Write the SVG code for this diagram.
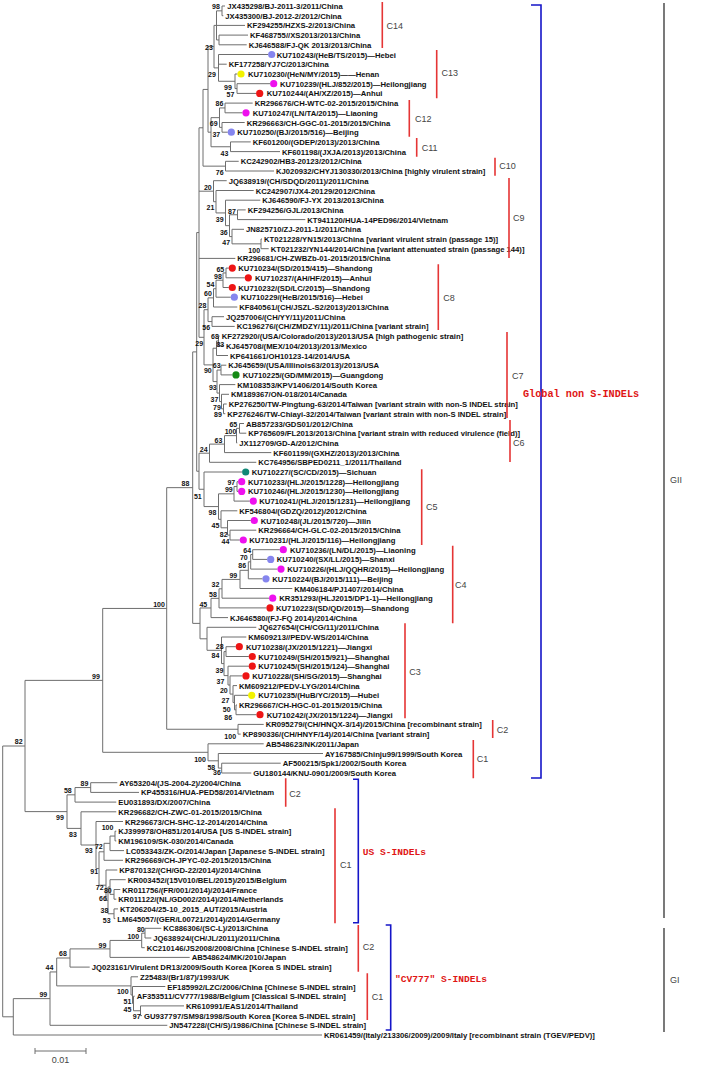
<svg xmlns="http://www.w3.org/2000/svg" width="712" height="1065" viewBox="0 0 712 1065">
<style>
.l{font-family:"Liberation Sans",Arial,sans-serif;font-size:7.7px;font-weight:bold;fill:#111}
.b{font-family:"Liberation Sans",Arial,sans-serif;font-size:7px;font-weight:bold;fill:#111;text-anchor:middle}
.c{font-family:"Liberation Sans",Arial,sans-serif;font-size:9px;fill:#444}
.g{font-family:"Liberation Mono","Courier New",monospace;font-size:9.6px;font-weight:bold;fill:#e01515}
.br{fill:none;stroke:#6e6e6e;stroke-width:1}
.bar{stroke:#e53535;stroke-width:1.6;fill:none}
.blue{fill:none;stroke:#1515c8;stroke-width:1.6}
.blk{fill:none;stroke:#222;stroke-width:1.2}
.pb{fill:#8585ee}.pm{fill:#ee10ee}.pr{fill:#ee1515}.py{fill:#f2f200}.pg{fill:#158a15}.pt{fill:#118877}
</style>
<rect width="712" height="1065" fill="#fff"/>
<g id="connectors" class="br">
<path d="M225 6H222V15.7H223.3M248 35.1H219V44.8H246.7M222 10.85H216.5V39.95H219M216.5 25.4H245"/>
<path d="M270.2 83.7H237V93.4H256.2M237.5 74H235V88.55H237M268.2 54.5H218.5V81.28H235M218.5 64.2H226.7M216.5 25.4H214V67.89H218.5"/>
<path d="M252.7 103.1H225V112.8H242.5M244.7 122.5H222V132.2H227.8M225 107.95H219.5V127.35H222M250.7 141.9H230.5V151.6H280M219.5 117.65H211V146.75H230.5M214 46.65H208V132.2H211"/>
<path d="M238.7 161.3H225.5V171H274M208 89.43H203V166.15H225.5"/>
<path d="M245.7 209.9H237.5V219.6H305.3M262 239H261V248.7H268.7M244 229.3H232V243.85H261M237.5 214.75H229.5V236.58H232M260.3 200.2H225.5V225.66H229.5M253.7 190.5H216V212.93H225.5M226.7 180.7H213.5V201.71H216"/>
<path d="M228.8 268.1H226V277.8H244.8M226 272.95H223V287.5H228.8M223 280.23H216V297.2H230.8M216 288.71H213.5V307H237.3M224 316.7H212V326.4H234.7M213.5 297.86H208V321.55H212"/>
<path d="M219.7 336.1H218.5V345.8H224M218.5 340.95H216.5V355.5H228M226.3 365.2H221V374.9H232.5M226.7 404H223.5V413.7H225.3M229 394.3H221.5V408.85H223.5M235.3 384.6H219.5V401.58H221.5M221 370.05H217V393.09H219.5M216.5 348.23H213V381.57H217M208 309.7H204V364.9H213"/>
<path d="M203 127.79H199V337.3H204M199 191.2H213.5M199 258.4H235.3"/>
<path d="M244 423.5H239.5V433.2H246.3M239.5 428.35H236.5V442.9H237.3M236.5 435.63H224.5V452.6H271.3M224.5 444.11H209.5V462.3H256.3"/>
<path d="M238.2 481.7H237V491.4H238.2M237 486.55H234V501.1H249.8M256.3 530.2H230V540H239.8M250.8 520.5H227.5V535.1H230M237.3 510.8H221V527.8H227.5M234 493.83H218.5V519.3H221M242.2 472H204V506.57H218.5M209.5 453.2H199V489.28H204M199 232.55H196.7V471.24H199"/>
<path d="M279.8 549.7H252.7V559.4H267.2M252.7 554.55H250.7V569.1H277.5M250.7 561.83H248.3V578.8H262.5M248.3 570.31H240V588.5H292.3M240 579.41H222V598.2H269.2M222 588.8H219V607.9H266.5M219 598.35H211V617.6H228"/>
<path d="M235.8 646.7H226V656.5H248.8M237 705H236V714.7H256.5M248.2 695.3H234.5V709.85H236M237 685.6H233V702.58H234.5M242.5 675.9H230V694.09H233M248.8 666.2H228V685H230M226 651.6H224V675.6H228M246.3 637H221.5V663.6H224M256.3 627.3H207V650.3H221.5M211 607.98H200V638.8H207M196.7 351.9H192.7V623.39H200"/>
<path d="M263.7 724.4H238V734.1H240.7M192.7 487.65H166.7V729.25H238"/>
<path d="M280.7 763.2H221.7V773H251.3M323 753.5H218.3V768.1H221.7M263.7 743.8H208V760.8H218.3M166.7 608.45H102.7V752.3H208"/>
<path d="M117.3 782.7H90.7V792.4H139M90.7 787.55H75V802.1H116.3"/>
<path d="M116.3 831.2H115V840.9H116.3M115 836.05H110V850.6H124M110 843.33H104V860.3H123M120.3 889.5H114V899.2H116.3M125.7 879.7H110V894.35H114M118 908.9H114V918.6H115.3M110 887.03H108V913.75H114M117.3 870H106V900.39H108M104 851.8H99V885.2H106M123 821.5H96V868.5H99M116.3 811.8H81V845H96M75 794.83H67V828.4H81M102.7 680.38H25V811.62H67"/>
<path d="M161.3 928.3H145V938H151.3M145 933.15H141.7V947.7H144.7M141.7 940.43H110V957.4H189.7M110 948.9H70V967.1H89.7"/>
<path d="M184 1005.9H140.5V1015.6H142M134.7 996.2H133.5V1010.75H140.5M165.3 986.5H132.5V1003.48H133.5M138 976.8H131V994.99H132.5M70 958H56.7V985.9H131M56.7 971.95H50V1025.3H167.3M50 998.63H13.3V1035H322M25 746H2.7V1016.8H13.3"/>
</g>
<g id="leaves">
<g id="n1"><text class="l" x="227.3" y="9">JX435298/BJ-2011-3/2011/China</text></g>
<g id="n2"><text class="l" x="225.3" y="18.7">JX435300/BJ-2012-2/2012/China</text></g>
<g id="n3"><text class="l" x="247" y="28.4">KF294255/HZXS-2/2013/China</text></g>
<g id="n4"><text class="l" x="250" y="38.1">KF468755//XS2013/2013/China</text></g>
<g id="n5"><text class="l" x="248.7" y="47.8">KJ646588/FJ-QK 2013/2013/China</text></g>
<g id="n6"><circle class="pb" cx="271.7" cy="54.5" r="3.6"/><text class="l" x="276.7" y="57.5">KU710243/(HeB/TS/2015)—Hebei</text></g>
<g id="n7"><text class="l" x="228.7" y="67.2">KF177258/YJ7C/2013/China</text></g>
<g id="n8"><circle class="py" cx="241" cy="74" r="3.6"/><text class="l" x="248" y="77">KU710230/(HeN/MY/2015)——Henan</text></g>
<g id="n9"><circle class="pm" cx="273.7" cy="83.7" r="3.6"/><text class="l" x="280" y="86.7">KU710239/(HLJ/852/2015)—Heilongjiang</text></g>
<g id="n10"><circle class="pr" cx="259.7" cy="93.4" r="3.6"/><text class="l" x="266.7" y="96.4">KU710244/(AH/XZ/2015)—Anhui</text></g>
<g id="n11"><text class="l" x="254.7" y="106.1">KR296676/CH-WTC-02-2015/2015/China</text></g>
<g id="n12"><circle class="pm" cx="246" cy="112.8" r="3.6"/><text class="l" x="252.7" y="115.8">KU710247/(LN/TA/2015)—Liaoning</text></g>
<g id="n13"><text class="l" x="246.7" y="125.5">KR296663/CH-GGC-01-2015/2015/China</text></g>
<g id="n14"><circle class="pb" cx="231.3" cy="132.2" r="3.6"/><text class="l" x="237.3" y="135.2">KU710250/(BJ/2015/516)—Beijing</text></g>
<g id="n15"><text class="l" x="252.7" y="144.9">KF601200/(GDEP/2013)/2013/China</text></g>
<g id="n16"><text class="l" x="282" y="154.6">KF601198/(JXJA/2013)/2013/China</text></g>
<g id="n17"><text class="l" x="240.7" y="164.3">KC242902/HB3-20123/2012/China</text></g>
<g id="n18"><text class="l" x="276" y="174">KJ020932/CHYJ130330/2013/China [highly virulent strain]</text></g>
<g id="n19"><text class="l" x="228.7" y="183.7">JQ638919/(CH/SDQD/2011)/2011/China</text></g>
<g id="n20"><text class="l" x="255.7" y="193.5">KC242907/JX4-20129/2012/China</text></g>
<g id="n21"><text class="l" x="262.3" y="203.2">KJ646590/FJ-YX 2013/2013/China</text></g>
<g id="n22"><text class="l" x="247.7" y="212.9">KF294256/GJL/2013/China</text></g>
<g id="n23"><text class="l" x="307.3" y="222.6">KT941120/HUA-14PED96/2014/Vietnam</text></g>
<g id="n24"><text class="l" x="246" y="232.3">JN825710/ZJ-2011-1/2011/China</text></g>
<g id="n25"><text class="l" x="264" y="242">KT021228/YN15/2013/China [variant virulent strain (passage 15)]</text></g>
<g id="n26"><text class="l" x="270.7" y="251.7">KT021232/YN144/2014/China [variant attenuated strain (passage 144)]</text></g>
<g id="n27"><text class="l" x="237.3" y="261.4">KR296681/CH-ZWBZb-01-2015/2015/China</text></g>
<g id="n28"><circle class="pr" cx="232.3" cy="268.1" r="3.6"/><text class="l" x="238.3" y="271.1">KU710234/(SD/2015/415)—Shandong</text></g>
<g id="n29"><circle class="pr" cx="248.3" cy="277.8" r="3.6"/><text class="l" x="255" y="280.8">KU710237/(AH/HF/2015)—Anhui</text></g>
<g id="n30"><circle class="pr" cx="232.3" cy="287.5" r="3.6"/><text class="l" x="238.3" y="290.5">KU710232/(SD/LC/2015)—Shandong</text></g>
<g id="n31"><circle class="pb" cx="234.3" cy="297.2" r="3.6"/><text class="l" x="240.7" y="300.2">KU710229/(HeB/2015/516)—Hebei</text></g>
<g id="n32"><text class="l" x="239.3" y="310">KF840561/(CH/JSZL-S2/2013)/2013/China</text></g>
<g id="n33"><text class="l" x="226" y="319.7">JQ257006/(CH/YY/11)/2011/China</text></g>
<g id="n34"><text class="l" x="236.7" y="329.4">KC196276/(CH/ZMDZY/11)/2011/China [variant strain]</text></g>
<g id="n35"><text class="l" x="221.7" y="339.1">KF272920/(USA/Colorado/2013)/2013/USA [high pathogenic strain]</text></g>
<g id="n36"><text class="l" x="226" y="348.8">KJ645708/(MEX/104/2013)/2013/Mexico</text></g>
<g id="n37"><text class="l" x="230" y="358.5">KP641661/OH10123-14/2014/USA</text></g>
<g id="n38"><text class="l" x="228.3" y="368.2">KJ645659/(USA/Illinois63/2013)/2013/USA</text></g>
<g id="n39"><circle class="pg" cx="236" cy="374.9" r="3.6"/><text class="l" x="242.7" y="377.9">KU710225/(GD/MM/2015)—Guangdong</text></g>
<g id="n40"><text class="l" x="237.3" y="387.6">KM108353/KPV1406/2014/South Korea</text></g>
<g id="n41"><text class="l" x="231" y="397.3">KM189367/ON-018/2014/Canada</text></g>
<g id="n42"><text class="l" x="228.7" y="407">KP276250/TW-Pingtung-63/2014/Taiwan [variant strain with non-S INDEL strain]</text></g>
<g id="n43"><text class="l" x="227.3" y="416.7">KP276246/TW-Chiayi-32/2014/Taiwan [variant strain with non-S INDEL strain]</text></g>
<g id="n44"><text class="l" x="246" y="426.5">AB857233/GDS01/2012/China</text></g>
<g id="n45"><text class="l" x="248.3" y="436.2">KP765609/FL2013/2013/China [variant strain with reduced virulence (field)]</text></g>
<g id="n46"><text class="l" x="239.3" y="445.9">JX112709/GD-A/2012/China</text></g>
<g id="n47"><text class="l" x="273.3" y="455.6">KF601199/(GXHZ/2013)/2013/China</text></g>
<g id="n48"><text class="l" x="258.3" y="465.3">KC764956/SBPED0211_1/2011/Thailand</text></g>
<g id="n49"><circle class="pt" cx="245.7" cy="472" r="3.6"/><text class="l" x="251.7" y="475">KU710227/(SC/CD/2015)—Sichuan</text></g>
<g id="n50"><circle class="pm" cx="241.7" cy="481.7" r="3.6"/><text class="l" x="248" y="484.7">KU710233/(HLJ/2015/1228)—Heilongjiang</text></g>
<g id="n51"><circle class="pm" cx="241.7" cy="491.4" r="3.6"/><text class="l" x="248" y="494.4">KU710246/(HLJ/2015/1230)—Heilongjiang</text></g>
<g id="n52"><circle class="pm" cx="253.3" cy="501.1" r="3.6"/><text class="l" x="259.3" y="504.1">KU710241/(HLJ/2015/1231)—Heilongjiang</text></g>
<g id="n53"><text class="l" x="239.3" y="513.8">KF546804/(GDZQ/2012)/2012/China</text></g>
<g id="n54"><circle class="pm" cx="254.3" cy="520.5" r="3.6"/><text class="l" x="260.7" y="523.5">KU710248/(JL/2015/720)—Jilin</text></g>
<g id="n55"><text class="l" x="258.3" y="533.2">KR296664/CH-GLC-02-2015/2015/China</text></g>
<g id="n56"><circle class="pm" cx="243.3" cy="540" r="3.6"/><text class="l" x="249.3" y="543">KU710231/(HLJ/2015/116)—Heilongjiang</text></g>
<g id="n57"><circle class="pm" cx="283.3" cy="549.7" r="3.6"/><text class="l" x="290" y="552.7">KU710236/(LN/DL/2015)—Liaoning</text></g>
<g id="n58"><circle class="pb" cx="270.7" cy="559.4" r="3.6"/><text class="l" x="276.7" y="562.4">KU710240/(SX/LL/2015)—Shanxi</text></g>
<g id="n59"><circle class="pm" cx="281" cy="569.1" r="3.6"/><text class="l" x="287.3" y="572.1">KU710226/(HLJ/QQHR/2015)—Heilongjiang</text></g>
<g id="n60"><circle class="pb" cx="266" cy="578.8" r="3.6"/><text class="l" x="272.3" y="581.8">KU710224/(BJ/2015/111)—Beijing</text></g>
<g id="n61"><text class="l" x="294.3" y="591.5">KM406184/PJ1407/2014/China</text></g>
<g id="n62"><circle class="pm" cx="272.7" cy="598.2" r="3.6"/><text class="l" x="279.3" y="601.2">KR351293/(HLJ2015/DP1-1)—Heilongjiang</text></g>
<g id="n63"><circle class="pr" cx="270" cy="607.9" r="3.6"/><text class="l" x="276" y="610.9">KU710223/(SD/QD/2015)—Shandong</text></g>
<g id="n64"><text class="l" x="230" y="620.6">KJ646580/(FJ-FQ 2014)/2014/China</text></g>
<g id="n65"><text class="l" x="258.3" y="630.3">JQ627654/(CH/CG/11)/2011/China</text></g>
<g id="n66"><text class="l" x="248.3" y="640">KM609213//PEDV-WS/2014/China</text></g>
<g id="n67"><circle class="pr" cx="239.3" cy="646.7" r="3.6"/><text class="l" x="246" y="649.7">KU710238/(JX/2015/1221)—Jiangxi</text></g>
<g id="n68"><circle class="pr" cx="252.3" cy="656.5" r="3.6"/><text class="l" x="258.3" y="659.5">KU710249/(SH/2015/921)—Shanghai</text></g>
<g id="n69"><circle class="pr" cx="252.3" cy="666.2" r="3.6"/><text class="l" x="258.3" y="669.2">KU710245/(SH/2015/124)—Shanghai</text></g>
<g id="n70"><circle class="pr" cx="246" cy="675.9" r="3.6"/><text class="l" x="252.3" y="678.9">KU710228/(SH/SG/2015)—Shanghai</text></g>
<g id="n71"><text class="l" x="239" y="688.6">KM609212/PEDV-LYG/2014/China</text></g>
<g id="n72"><circle class="py" cx="251.7" cy="695.3" r="3.6"/><text class="l" x="258.3" y="698.3">KU710235/(HuB/YC/2015)—Hubei</text></g>
<g id="n73"><text class="l" x="239" y="708">KR296667/CH-HGC-01-2015/2015/China</text></g>
<g id="n74"><circle class="pr" cx="260" cy="714.7" r="3.6"/><text class="l" x="266.7" y="717.7">KU710242/(JX/2015/1224)—Jiangxi</text></g>
<g id="n75"><text class="l" x="265.7" y="727.4">KR095279/(CH/HNQX-3/14)/2015/China [recombinant strain]</text></g>
<g id="n76"><text class="l" x="242.7" y="737.1">KP890336/(CH/HNYF/14)/2014/China [variant strain]</text></g>
<g id="n77"><text class="l" x="265.7" y="746.8">AB548623/NK/2011/Japan</text></g>
<g id="n78"><text class="l" x="325" y="756.5">AY167585/Chinju99/1999/South Korea</text></g>
<g id="n79"><text class="l" x="282.7" y="766.2">AF500215/Spk1/2002/South Korea</text></g>
<g id="n80"><text class="l" x="253.3" y="776">GU180144/KNU-0901/2009/South Korea</text></g>
<g id="n81"><text class="l" x="119.3" y="785.7">AY653204/(JS-2004-2)/2004/China</text></g>
<g id="n82"><text class="l" x="141" y="795.4">KP455316/HUA-PED58/2014/Vietnam</text></g>
<g id="n83"><text class="l" x="118.3" y="805.1">EU031893/DX/2007/China</text></g>
<g id="n84"><text class="l" x="118.3" y="814.8">KR296682/CH-ZWC-01-2015/2015/China</text></g>
<g id="n85"><text class="l" x="125" y="824.5">KR296673/CH-SHC-12-2014/2014/China</text></g>
<g id="n86"><text class="l" x="118.3" y="834.2">KJ399978/OH851/2014/USA [US S-INDEL strain]</text></g>
<g id="n87"><text class="l" x="118.3" y="843.9">KM196109/SK-030/2014/Canada</text></g>
<g id="n88"><text class="l" x="126" y="853.6">LC053343/ZK-O/2014/Japan [Japanese S-INDEL strain]</text></g>
<g id="n89"><text class="l" x="125" y="863.3">KR296669/CH-JPYC-02-2015/2015/China</text></g>
<g id="n90"><text class="l" x="119.3" y="873">KP870132/(CH/GD-22/2014)/2014/China</text></g>
<g id="n91"><text class="l" x="127.7" y="882.7">KR003452/(15V010/BEL/2015)/2015/Belgium</text></g>
<g id="n92"><text class="l" x="122.3" y="892.5">KR011756/(FR/001/2014)/2014/France</text></g>
<g id="n93"><text class="l" x="118.3" y="902.2">KR011122/(NL/GD002/2014)/2014/Netherlands</text></g>
<g id="n94"><text class="l" x="120" y="911.9">KT206204/25-10_2015_AUT/2015/Austria</text></g>
<g id="n95"><text class="l" x="117.3" y="921.6">LM645057/(GER/L00721/2014)/2014/Germany</text></g>
<g id="n96"><text class="l" x="163.3" y="931.3">KC886306/(SC-L)/2013/China</text></g>
<g id="n97"><text class="l" x="153.3" y="941">JQ638924/(CH/JL/2011)/2011/China</text></g>
<g id="n98"><text class="l" x="146.7" y="950.7">KC210146/JS2008/2008/China [Chinese S-INDEL strain]</text></g>
<g id="n99"><text class="l" x="191.7" y="960.4">AB548624/MK/2010/Japan</text></g>
<g id="n100"><text class="l" x="91.7" y="970.1">JQ023161/Virulent DR13/2009/South Korea [Korea S INDEL strain]</text></g>
<g id="n101"><text class="l" x="140" y="979.8">Z25483/(Br1/87)/1993/UK</text></g>
<g id="n102"><text class="l" x="167.3" y="989.5">EF185992/LZC/2006/China [Chinese S-INDEL strain]</text></g>
<g id="n103"><text class="l" x="136.7" y="999.2">AF353511/CV777/1988/Belgium [Classical S-INDEL strain]</text></g>
<g id="n104"><text class="l" x="186" y="1008.9">KR610991/EAS1/2014/Thailand</text></g>
<g id="n105"><text class="l" x="144" y="1018.6">GU937797/SM98/1998/South Korea [Korea S-INDEL strain]</text></g>
<g id="n106"><text class="l" x="169.3" y="1028.3">JN547228/(CH/S)/1986/China [Chinese S-INDEL strain]</text></g>
<g id="n107"><text class="l" x="324" y="1038">KR061459/(Italy/213306/2009)/2009/Italy [recombinant strain (TGEV/PEDV)]</text></g>
</g>
<g id="bootstrap">
<text class="b" x="216" y="8.5">98</text><text class="b" x="209" y="50.2">23</text><text class="b" x="212" y="76.5">29</text><text class="b" x="228" y="89.5">99</text><text class="b" x="230.5" y="96.5">57</text>
<text class="b" x="219.5" y="105.5">86</text><text class="b" x="213.7" y="125.8">69</text><text class="b" x="216.3" y="136.5">37</text><text class="b" x="224.5" y="155.8">43</text><text class="b" x="219.7" y="175.2">76</text>
<text class="b" x="207.8" y="190.2">20</text><text class="b" x="210.5" y="210.2">21</text><text class="b" x="232" y="213.5">87</text><text class="b" x="219.7" y="221.5">39</text><text class="b" x="223.8" y="234.5">36</text><text class="b" x="226.2" y="244.8">47</text><text class="b" x="254.2" y="253.2">100</text>
<text class="b" x="220.3" y="271.5">65</text><text class="b" x="218" y="279.2">98</text><text class="b" x="210.5" y="286.5">54</text><text class="b" x="208" y="295.8">60</text><text class="b" x="202.5" y="307.8">28</text><text class="b" x="206.2" y="330.2">56</text><text class="b" x="199.2" y="346.2">29</text>
<text class="b" x="215" y="339.2">68</text><text class="b" x="220.3" y="346.5">83</text><text class="b" x="216.7" y="368.2">63</text><text class="b" x="207.8" y="373.2">90</text><text class="b" x="212.8" y="389.8">93</text><text class="b" x="214.5" y="401.5">37</text><text class="b" x="217" y="409.5">79</text><text class="b" x="218" y="416.8">89</text>
<text class="b" x="233.3" y="426.5">65</text><text class="b" x="230.5" y="434.2">100</text><text class="b" x="218.5" y="442.5">63</text><text class="b" x="203.7" y="451.8">24</text><text class="b" x="185.5" y="485.5">88</text>
<text class="b" x="231.3" y="484.8">97</text><text class="b" x="228.8" y="491.8">99</text><text class="b" x="197.8" y="498.5">51</text><text class="b" x="212.5" y="515.2">98</text><text class="b" x="215.5" y="528.2">45</text><text class="b" x="223.7" y="536.8">82</text><text class="b" x="225.5" y="544.2">44</text>
<text class="b" x="247.2" y="552.5">64</text><text class="b" x="243.8" y="560.2">70</text><text class="b" x="242.2" y="568.2">86</text><text class="b" x="233.3" y="577.5">99</text><text class="b" x="215.5" y="586.8">32</text><text class="b" x="213" y="596.5">58</text><text class="b" x="203.3" y="606.5">45</text>
<text class="b" x="159" y="606.5">100</text><text class="b" x="96" y="678.5">99</text>
<text class="b" x="219.7" y="649.2">28</text><text class="b" x="215.5" y="658.2">84</text><text class="b" x="219.5" y="673.2">39</text><text class="b" x="220.5" y="684.2">37</text><text class="b" x="223.8" y="693.2">20</text><text class="b" x="225.5" y="703.2">27</text><text class="b" x="226.7" y="711.5">50</text><text class="b" x="228.2" y="719.8">86</text><text class="b" x="230.2" y="738.5">100</text>
<text class="b" x="200" y="761.5">100</text><text class="b" x="211.3" y="770.2">58</text><text class="b" x="217" y="774.8">36</text><text class="b" x="18.7" y="744.2">82</text>
<text class="b" x="84.5" y="785.8">89</text><text class="b" x="67.8" y="793.2">58</text><text class="b" x="60" y="820.2">99</text><text class="b" x="73" y="836.5">83</text><text class="b" x="107.5" y="829.8">100</text><text class="b" x="98.8" y="849.2">72</text><text class="b" x="88.8" y="852.5">93</text><text class="b" x="94.2" y="874.2">91</text><text class="b" x="99.7" y="889.8">72</text><text class="b" x="107.8" y="892.5">80</text><text class="b" x="103" y="900.8">66</text><text class="b" x="104.5" y="912.5">38</text><text class="b" x="106.7" y="922.5">53</text>
<text class="b" x="140.8" y="931.5">80</text><text class="b" x="133.3" y="939.2">100</text><text class="b" x="102.5" y="947.5">99</text><text class="b" x="63" y="955.8">68</text><text class="b" x="49.5" y="969.8">44</text><text class="b" x="43.3" y="996.8">99</text><text class="b" x="122.8" y="994.2">100</text><text class="b" x="127.5" y="1004.2">51</text><text class="b" x="127.5" y="1011.5">45</text><text class="b" x="136.7" y="1019.2">97</text>
</g>
<g id="clades">
<path class="bar" d="M382.3 2V48M436.7 50V98.3M409.3 100V136.7M416.7 138V156.7M495 157.7V175.7M509 178V258M438.3 264.3V330M507 332V418M510 420V462M421.7 469.3V545M452.7 545.7V623.3M405 623.3V718.3M492.7 720V738M473.3 740V778.3M285.7 778.3V806.7M335 808.3V923.3M358.3 925V971.7M367.3 973.3V1020"/>
<text class="c" x="386.5" y="29">C14</text><text class="c" x="441.5" y="76.3">C13</text><text class="c" x="415" y="121.6">C12</text><text class="c" x="421.7" y="150.6">C11</text><text class="c" x="499.3" y="169.3">C10</text><text class="c" x="513" y="221.3">C9</text><text class="c" x="443.3" y="301">C8</text><text class="c" x="512" y="379.3">C7</text><text class="c" x="513" y="446">C6</text><text class="c" x="426" y="510">C5</text><text class="c" x="455" y="588.3">C4</text><text class="c" x="409.3" y="675">C3</text><text class="c" x="496.7" y="732.6">C2</text><text class="c" x="476.7" y="762.3">C1</text><text class="c" x="289.3" y="796.6">C2</text><text class="c" x="340" y="868.3">C1</text><text class="c" x="362.7" y="950">C2</text><text class="c" x="371.7" y="1000">C1</text>
<path class="blue" d="M531 5H541V778H531M353 779.3H358.3V922.7H353M385.7 925H390.7V1030H385.7"/>
<text class="g" x="523" y="396.5" style="font-size:10.2px">Global non S-INDELs</text>
<text class="g" x="362.7" y="855">US S-INDELs</text>
<text class="g" x="395" y="981.5">&quot;CV777&quot; S-INDELs</text>
<path class="blk" d="M664 3V918M664 928V1032"/>
<text class="c" x="670" y="483">GII</text>
<text class="c" x="670" y="983">GI</text>
</g>
<g id="scale">
<path class="br" d="M35 1051H86M35 1048V1054M86 1048V1054"/>
<text class="c" x="60.5" y="1063" text-anchor="middle">0.01</text>
</g>
</svg>
